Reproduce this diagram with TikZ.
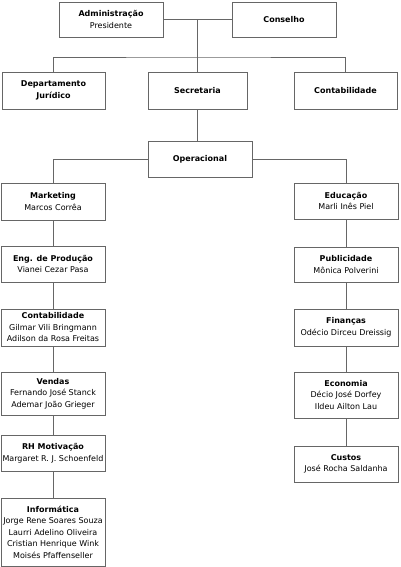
\documentclass[tikz,border=0pt]{standalone}
\usepackage{fontspec}
\setmainfont{DejaVu Sans}
\begin{document}
\begin{tikzpicture}[x=1pt,y=-1pt,
  box/.style={draw=black!60,line width=0.9pt,fill=white,rectangle,inner sep=0pt,align=center,
    font=\fontsize{8}{11.5}\selectfont,text=black},
  conn/.style={draw=black!60,line width=0.9pt}]
\useasboundingbox (0,0) rectangle (400,567);
% top
\node[box,minimum width=104,minimum height=35] (adm) at (111,19.5) {\textbf{Administração}\\Presidente};
\node[box,minimum width=104,minimum height=35] (cons) at (284,19.5) {\textbf{Conselho}};
\node[box,minimum width=103,minimum height=37] (dep) at (53.5,90.5) {\textbf{Departamento}\\\textbf{Jurídico}};
\node[box,minimum width=99,minimum height=37] (sec) at (197.5,90.5) {\textbf{Secretaria}};
\node[box,minimum width=103,minimum height=37] (cont) at (345.5,90.5) {\textbf{Contabilidade}};
\node[box,minimum width=104,minimum height=36] (oper) at (200,159) {\textbf{Operacional}};
% left column
\node[box,minimum width=104,minimum height=37] (mkt) at (53,201.5) {\textbf{Marketing}\\Marcos Corrêa};
\node[box,minimum width=104,minimum height=36] (eng) at (53,264) {\textbf{Eng. de Produção}\\Vianei Cezar Pasa};
\node[box,minimum width=104,minimum height=37] (contb) at (53,327.5) {\textbf{Contabilidade}\\Gilmar Vili Bringmann\\Adilson da Rosa Freitas};
\node[box,minimum width=104,minimum height=43] (vend) at (53,393.5) {\textbf{Vendas}\\Fernando José Stanck\\Ademar João Grieger};
\node[box,minimum width=104,minimum height=36] (rh) at (53,453) {\textbf{RH Motivação}\\Margaret R. J. Schoenfeld};
\node[box,minimum width=104,minimum height=68] (inf) at (53,532) {\textbf{Informática}\\Jorge Rene Soares Souza\\Laurri Adelino Oliveira\\Cristian Henrique Wink\\Moisés Pfaffenseller};
% right column
\node[box,minimum width=104,minimum height=36] (edu) at (346,201) {\textbf{Educação}\\Marli Inês Piel};
\node[box,minimum width=104,minimum height=35] (pub) at (346,264.5) {\textbf{Publicidade}\\Mônica Polverini};
\node[box,minimum width=104,minimum height=37] (fin) at (346,327.5) {\textbf{Finanças}\\Odécio Dirceu Dreissig};
\node[box,minimum width=104,minimum height=46] (eco) at (346,395) {\textbf{Economia}\\Décio José Dorfey\\Ildeu Ailton Lau};
\node[box,minimum width=104,minimum height=36] (cus) at (346,464) {\textbf{Custos}\\José Rocha Saldanha};
% connectors
\coordinate (j1) at (197.5,19.5);
\coordinate (bar) at (197.5,57);
\draw[conn] (adm.east) -- (cons.west);
\draw[conn] (j1) -- (sec.north);
\draw[conn] (dep.north) |- (bar) -| (cont.north);
\draw[conn] (sec.south) -- (sec.south |- oper.north);
\draw[conn] (oper.west) -| (mkt.north);
\draw[conn] (oper.east) -| (edu.north);
\draw[conn] (mkt.south) -- (eng.north);
\draw[conn] (eng.south) -- (contb.north);
\draw[conn] (contb.south) -- (vend.north);
\draw[conn] (vend.south) -- (rh.north);
\draw[conn] (rh.south) -- (inf.north);
\draw[conn] (edu.south) -- (pub.north);
\draw[conn] (pub.south) -- (fin.north);
\draw[conn] (fin.south) -- (eco.north);
\draw[conn] (eco.south) -- (cus.north);
\end{tikzpicture}
\end{document}
